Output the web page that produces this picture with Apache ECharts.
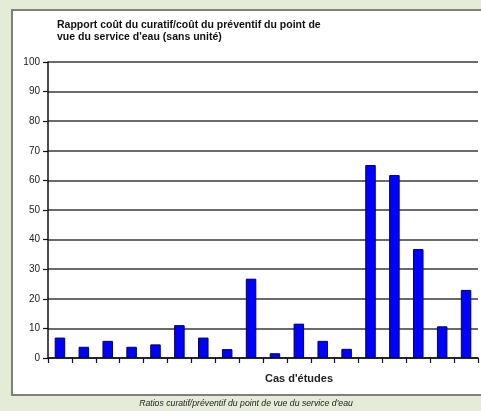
<!DOCTYPE html>
<html>
<head>
<meta charset="utf-8">
<script src="https://cdn.jsdelivr.net/npm/echarts@6/dist/echarts.min.js"></script>
<style>
html,body{margin:0;padding:0;background:#e4ebd6;}
#c{width:481px;height:411px;}
</style>
</head>
<body>
<div id="c"></div>
<script>
var categories = ['1','2','3','4','5','6','7','8','9','10','11','12','13','14','15','16','17','18'];
var ratios = [6.9, 3.8, 5.8, 3.8, 4.6, 11.1, 6.9, 3.0, 26.8, 1.6, 11.6, 5.8, 3.1, 65.2, 61.8, 36.8, 10.7, 23.0];
var titleText = 'Rapport coût du curatif/coût du préventif du point de\nvue du service d\'eau (sans unité)';
var xAxisTitle = 'Cas d\'études';
var captionText = 'Ratios curatif/préventif du point de vue du service d\'eau';

var chart = echarts.init(document.getElementById('c'));
var font = 'Liberation Sans, Arial, sans-serif';
chart.setOption({
  backgroundColor: '#e4ebd6',
  animation: false,
  graphic: [
    {type: 'rect', z: -10, shape: {x: 12, y: 10, width: 480, height: 385},
     style: {fill: '#ffffff', stroke: '#7f7f7f', lineWidth: 2}},
    {type: 'text', left: 57, top: 19, z: 10,
     style: {text: titleText, font: 'bold 10.5px ' + font, fill: '#111', lineHeight: 12}},
    {type: 'text', x: 299, y: 379, z: 10,
     style: {text: xAxisTitle, font: 'bold 11px ' + font, fill: '#222', align: 'center', verticalAlign: 'middle'}},
    {type: 'text', x: 246, y: 404, z: 10,
     style: {text: captionText, font: 'italic 8.7px ' + font, fill: '#222', align: 'center', verticalAlign: 'middle'}}
  ],
  grid: {left: 48, right: 3, top: 62, bottom: 53, containLabel: false, outerBoundsMode: 'none'},
  xAxis: {
    type: 'category',
    data: categories,
    axisLine: {lineStyle: {color: '#111', width: 1.5}},
    axisTick: {show: true, alignWithLabel: false, length: 5, lineStyle: {color: '#111', width: 1.2}},
    axisLabel: {show: false},
    splitLine: {show: false}
  },
  yAxis: {
    type: 'value',
    min: 0, max: 100, interval: 10,
    axisLine: {show: true, lineStyle: {color: '#111', width: 1.5}},
    axisTick: {show: true, length: 5, lineStyle: {color: '#111', width: 1.2}},
    axisLabel: {fontSize: 10, fontFamily: font, color: '#222', margin: 8},
    splitLine: {show: true, lineStyle: {color: '#3a3a3a', width: 1.5}}
  },
  series: [{
    type: 'bar',
    data: ratios,
    barWidth: '44%',
    itemStyle: {color: '#0000ff', borderColor: '#000060', borderWidth: 1}
  }]
});
</script>
</body>
</html>
